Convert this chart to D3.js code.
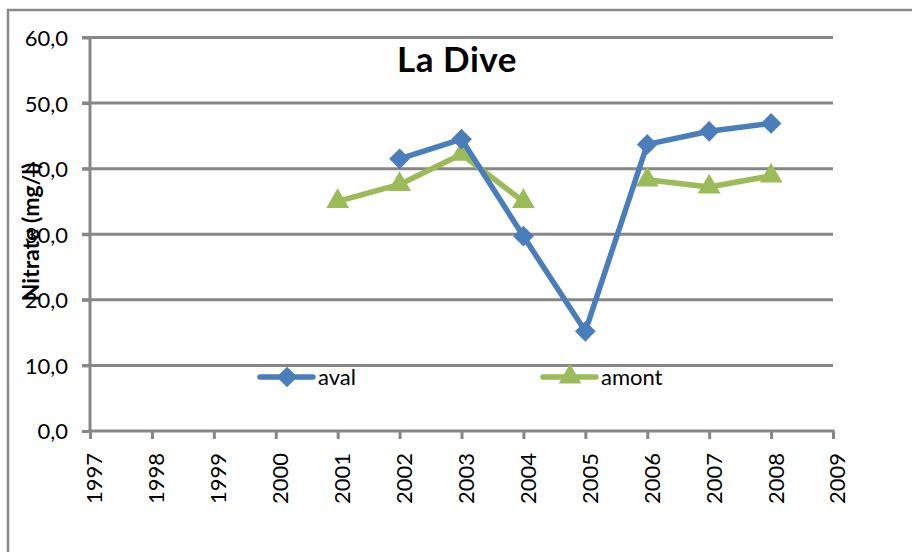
<!DOCTYPE html>
<html><head><meta charset="utf-8">
<script src="https://cdn.jsdelivr.net/npm/d3@7"></script>
<style>body{margin:0;background:#fff}svg{display:block}</style>
</head><body>
<script>
const years = [1997,1998,1999,2000,2001,2002,2003,2004,2005,2006,2007,2008,2009];
const yTicks = [0,10,20,30,40,50,60];
const avalYears = [2002,2003,2004,2005,2006,2007,2008];
const avalValues = [41.5,44.5,29.7,15.2,43.7,45.7,46.9];
const amontYears = [2001,2002,2003,2004,2005,2006,2007,2008];
const amontValues = [35.0,37.6,42.2,35.0,null,38.3,37.2,38.9];
const seriesNames = ["aval","amont"];
const colors = ["#4a7ebb","#9bbb59"];

const W=912,H=552;
const svg=d3.select("body").append("svg").attr("width",W).attr("height",H);
const font="Lato, 'Open Sans', sans-serif";
svg.append("rect").attr("x",8).attr("y",10).attr("width",W+20).attr("height",H+20)
  .attr("fill","#fff").attr("stroke","#8a8a8a").attr("stroke-width",2.5);

const x=d3.scaleLinear().domain([1997,2009]).range([90,833]);
const y=d3.scaleLinear().domain([0,60]).range([431,37.5]);

// gridlines
svg.append("g").selectAll("line").data(yTicks.filter(d=>d>0)).join("line")
  .attr("x1",82).attr("x2",833).attr("y1",d=>y(d)).attr("y2",d=>y(d))
  .attr("stroke","#878787").attr("stroke-width",3);

// y axis
const ya=svg.append("g").attr("transform","translate(90,0)")
  .call(d3.axisLeft(y).tickValues(yTicks).tickSize(8).tickPadding(13).tickFormat(d=>d3.format(".1f")(d).replace(".",",")));
ya.select(".domain").attr("stroke","#878787").attr("stroke-width",3).attr("d","M0,431V37.5");
ya.selectAll(".tick line").attr("stroke","#878787").attr("stroke-width",3);
ya.selectAll("text").attr("font-family",font).attr("font-size",22).attr("fill","#000").attr("x",-22).attr("dy","0.36em");

// x axis
const xa=svg.append("g").attr("transform","translate(0,431)")
  .call(d3.axisBottom(x).tickValues(years).tickSize(8).tickFormat(d3.format("d")));
xa.select(".domain").attr("stroke","#878787").attr("stroke-width",3).attr("d","M88.5,0H834.5");
xa.selectAll(".tick line").attr("stroke","#878787").attr("stroke-width",3);
xa.selectAll("text").attr("font-family",font).attr("font-size",22).attr("fill","#000")
  .attr("transform","rotate(-90)").attr("text-anchor","end").attr("x",-22).attr("y",4).attr("dy","0.36em");

// series
const diamond=d3.symbol().type(d3.symbolSquare).size(215);
const tri=d3.symbol().type(d3.symbolTriangle).size(225);
function drawSeries(ys,vals,color,sym,rot){
  const pts=ys.map((yr,i)=>({yr,v:vals[i]}));
  const line=d3.line().defined(d=>d.v!=null).x(d=>x(d.yr)).y(d=>y(d.v));
  svg.append("path").datum(pts).attr("d",line).attr("fill","none").attr("stroke",color)
    .attr("stroke-width",5.5).attr("stroke-linejoin","round").attr("stroke-linecap","round");
  svg.append("g").selectAll("path").data(pts.filter(d=>d.v!=null)).join("path")
    .attr("d",sym).attr("fill",color)
    .attr("transform",d=>`translate(${x(d.yr)},${y(d.v)}) rotate(${rot})`);
}
drawSeries(amontYears,amontValues,colors[1],tri,0);
drawSeries(avalYears,avalValues,colors[0],diamond,45);

// title
svg.append("text").attr("x",457).attr("y",72).attr("text-anchor","middle")
  .attr("font-family",font).attr("font-weight","bold").attr("font-size",35).attr("letter-spacing",0.5).text("La Dive");

// y label
svg.append("text").attr("transform","translate(39,232) rotate(-90)").attr("text-anchor","middle")
  .attr("font-family",font).attr("font-weight","bold").attr("font-size",23).text("Nitrate (mg/l)");

// legend
const leg=[{x:260,name:seriesNames[0],c:colors[0],sym:diamond,rot:45},{x:543,name:seriesNames[1],c:colors[1],sym:tri,rot:0}];
leg.forEach(l=>{
  svg.append("line").attr("x1",l.x).attr("x2",l.x+53).attr("y1",377).attr("y2",377)
    .attr("stroke",l.c).attr("stroke-width",5.5).attr("stroke-linecap","round");
  svg.append("path").attr("d",l.sym).attr("fill",l.c).attr("transform",`translate(${l.x+27},377) rotate(${l.rot})`);
  svg.append("text").attr("x",l.x+58).attr("y",385).attr("font-family",font).attr("font-size",22).text(l.name);
});
</script>
</body></html>
